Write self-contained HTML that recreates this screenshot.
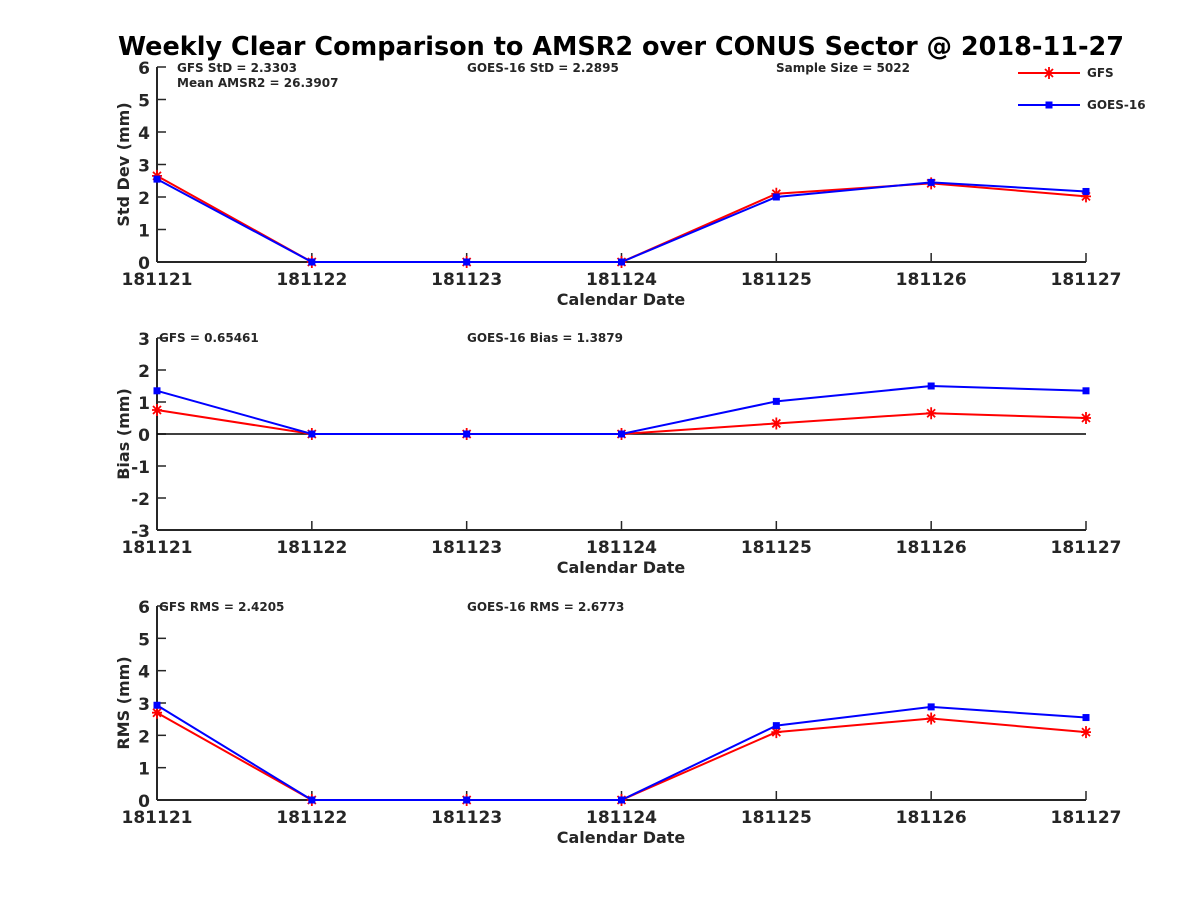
<!DOCTYPE html>
<html><head><meta charset="utf-8"><style>
body{margin:0;background:#fff;width:1200px;height:900px;overflow:hidden}
svg text{font-family:"DejaVu Sans","Liberation Sans",sans-serif;font-weight:bold;fill:#262626}
</style></head><body>
<svg id="chart" width="1200" height="900"></svg>
<script>
const dates=["181121","181122","181123","181124","181125","181126","181127"];
const stdGFS=[2.65,0,0,0,2.1,2.42,2.02];
const stdGOES=[2.55,0,0,0,2.0,2.45,2.17];
const biasGFS=[0.75,0,0,0,0.33,0.65,0.5];
const biasGOES=[1.35,0,0,0,1.02,1.5,1.35];
const rmsGFS=[2.7,0,0,0,2.1,2.52,2.1];
const rmsGOES=[2.93,0,0,0,2.3,2.88,2.55];
const stdTicks=[0,1,2,3,4,5,6];
const biasTicks=[-3,-2,-1,0,1,2,3];
const NS="http://www.w3.org/2000/svg";
const svg=document.getElementById('chart');
function el(t,a,txt){const e=document.createElementNS(NS,t);for(const k in a)e.setAttribute(k,a[k]);if(txt!==undefined)e.textContent=txt;svg.appendChild(e);return e;}
const x0=157,x1=1086;
function xs(i){return x0+(x1-x0)*i/(dates.length-1);}
function panel(name,top,bot,ymin,ymax,ticks,ylabel,g,b,notes,zero){
  const ys=v=>bot-(v-ymin)/(ymax-ymin)*(bot-top);
  let a=el('line',{x1:x0,y1:top,x2:x0,y2:bot,stroke:'#262626','stroke-width':2});
  
  a=el('line',{x1:x0,y1:bot,x2:x1,y2:bot,stroke:'#262626','stroke-width':2});
  
  ticks.forEach(t=>{const y=ys(t);
    el('line',{x1:x0,y1:y,x2:x0+9,y2:y,stroke:'#262626','stroke-width':1.5});
    const tx=el('text',{x:x0-7,y:y+7,'text-anchor':'end','font-size':17},String(t));
    });
  dates.forEach((d,i)=>{const x=xs(i);
    el('line',{x1:x,y1:bot,x2:x,y2:bot-9,stroke:'#262626','stroke-width':1.5});
    const tx=el('text',{x:x,y:bot+23,'text-anchor':'middle','font-size':17},d);
    });
  let t=el('text',{x:621,y:bot+43,'text-anchor':'middle','font-size':16},'Calendar Date');
  
  const cy=(top+bot)/2;
  t=el('text',{x:129,y:cy,'text-anchor':'middle','font-size':16,transform:`rotate(-90 129 ${cy})`},ylabel);
  
  if(zero!==undefined){const z=el('line',{x1:x0,y1:ys(0),x2:x1,y2:ys(0),stroke:'#000','stroke-width':1.5});
    }
  notes.forEach(n=>{const nt=el('text',{x:n[0],y:n[1],'font-size':12},n[2]);
    });
  series(name+'-gfs',g,ys,'#f00','star');
  series(name+'-goes16',b,ys,'#00f','sq');
}
function series(name,vals,ys,c,m){
  const p=el('polyline',{points:vals.map((v,i)=>xs(i)+','+ys(v)).join(' '),fill:'none',stroke:c,'stroke-width':2});
  
  vals.forEach((v,i)=>marker(xs(i),ys(v),c,m,name+'-marker'));
}
function marker(x,y,c,m,name){
  let e;
  if(m==='sq'){e=el('rect',{x:x-3.5,y:y-3.5,width:7,height:7,fill:c});}
  else{e=el('path',{d:`M${x-5},${y}H${x+5}M${x},${y-6}V${y+6}M${x-4},${y-4}L${x+4},${y+4}M${x-4},${y+4}L${x+4},${y-4}`,stroke:c,'stroke-width':1.8});}
  
}
let tt=el('text',{x:621,y:55,'text-anchor':'middle','font-size':25.5,style:'fill:#000'},'Weekly Clear Comparison to AMSR2 over CONUS Sector @ 2018-11-27');

panel('stddev',67,262,0,6,stdTicks,'Std Dev (mm)',stdGFS,stdGOES,[[177,72,'GFS StD = 2.3303'],[177,87,'Mean AMSR2 = 26.3907'],[467,72,'GOES-16 StD = 2.2895'],[776,72,'Sample Size = 5022']]);
panel('bias',338,530,-3,3,biasTicks,'Bias (mm)',biasGFS,biasGOES,[[159,342,'GFS = 0.65461'],[467,342,'GOES-16 Bias  = 1.3879']],true);
panel('rms',606,800,0,6,stdTicks,'RMS (mm)',rmsGFS,rmsGOES,[[159,611,'GFS RMS = 2.4205'],[467,611,'GOES-16 RMS = 2.6773']]);
let l=el('line',{x1:1018,y1:73,x2:1080,y2:73,stroke:'#f00','stroke-width':2});
marker(1049,73,'#f00','star','legend-gfs-marker');
l=el('text',{x:1087,y:77,'font-size':12},'GFS');
l=el('line',{x1:1018,y1:105,x2:1080,y2:105,stroke:'#00f','stroke-width':2});
marker(1049,105,'#00f','sq','legend-goes16-marker');
l=el('text',{x:1087,y:109,'font-size':12},'GOES-16');
</script>
</body></html>
